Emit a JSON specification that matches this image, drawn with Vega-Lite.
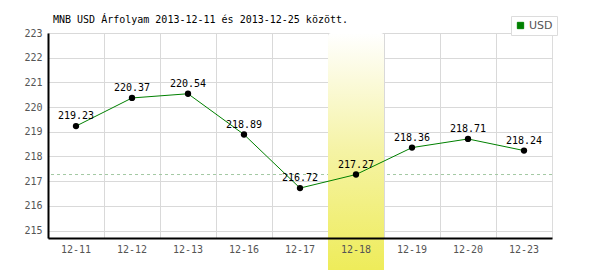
{
  "$schema": "https://vega.github.io/schema/vega-lite/v6.json",
  "width": 504,
  "height": 205,
  "autosize": {"type": "none"},
  "padding": {"left": 48, "top": 33, "right": 48, "bottom": 32},
  "background": "white",
  "config": {
    "view": {"stroke": "#dcdcdc", "strokeWidth": 1},
    "font": "DejaVu Sans Mono"
  },
  "title": {
    "text": "MNB USD Árfolyam 2013-12-11 és 2013-12-25 között.",
    "anchor": "start",
    "frame": "group",
    "dx": 5,
    "offset": -9,
    "font": "DejaVu Sans Mono",
    "fontSize": 10,
    "fontWeight": "normal",
    "color": "#000000"
  },
  "datasets": {
    "rates": [
      {"date": "12-11", "rate": 219.23, "currency": "USD"},
      {"date": "12-12", "rate": 220.37, "currency": "USD"},
      {"date": "12-13", "rate": 220.54, "currency": "USD"},
      {"date": "12-16", "rate": 218.89, "currency": "USD"},
      {"date": "12-17", "rate": 216.72, "currency": "USD"},
      {"date": "12-18", "rate": 217.27, "currency": "USD"},
      {"date": "12-19", "rate": 218.36, "currency": "USD"},
      {"date": "12-20", "rate": 218.71, "currency": "USD"},
      {"date": "12-23", "rate": 218.24, "currency": "USD"}
    ],
    "ref": [{"level": 217.27}],
    "hl": [{"date": "12-18", "top": 223, "bottom": 213.4}]
  },
  "resolve": {"axis": {"x": "independent", "y": "independent"}},
  "layer": [
    {
      "data": {"name": "ref"},
      "mark": {"type": "rule", "color": "#a3c9a3", "strokeDash": [3, 3], "strokeWidth": 1},
      "encoding": {
        "y": {
          "field": "level", "type": "quantitative",
          "scale": {"domain": [214.7, 223], "nice": false, "zero": false},
          "axis": {"orient": "right", "grid": true, "gridColor": "#d9d9d9", "gridWidth": 1, "labels": false, "domain": false, "ticks": false, "title": null, "values": [215, 216, 217, 218, 219, 220, 221, 222, 223], "zindex": 0}
        }
      }
    },
    {
      "data": {"name": "hl"},
      "mark": {
        "type": "rect",
        "cornerRadiusTopLeft": 3,
        "cornerRadiusTopRight": 3,
        "color": {
          "gradient": "linear", "x1": 0, "y1": 0, "x2": 0, "y2": 1,
          "stops": [
            {"offset": 0, "color": "#ffffff"},
            {"offset": 0.5, "color": "#f5f3a4"},
            {"offset": 1, "color": "#eeec5a"}
          ]
        }
      },
      "encoding": {
        "x": {
          "field": "date", "type": "nominal",
          "scale": {"domain": ["12-11", "12-12", "12-13", "12-16", "12-17", "12-18", "12-19", "12-20", "12-23"], "paddingInner": 0, "paddingOuter": 0},
          "axis": {"orient": "top", "grid": true, "gridColor": "#d9d9d9", "bandPosition": 0, "labels": false, "domain": false, "ticks": false, "title": null, "zindex": 0}
        },
        "y": {"field": "top", "type": "quantitative", "axis": null},
        "y2": {"field": "bottom"}
      }
    },
    {
      "data": {"name": "rates"},
      "mark": {"type": "line", "strokeWidth": 1},
      "encoding": {
        "x": {
          "field": "date", "type": "nominal", "sort": null,
          "axis": {"orient": "bottom", "grid": false, "ticks": false, "domain": true, "domainColor": "#000000", "domainWidth": 2, "labelPadding": 6, "labelFont": "DejaVu Sans Mono", "labelFontSize": 10, "labelColor": "#555555", "labelAngle": 0, "title": null, "zindex": 1}
        },
        "y": {
          "field": "rate", "type": "quantitative",
          "axis": {"orient": "left", "grid": false, "ticks": false, "domain": true, "domainColor": "#000000", "domainWidth": 2, "labelPadding": 6, "labelFont": "DejaVu Sans Mono", "labelFontSize": 10, "labelColor": "#555555", "title": null, "values": [215, 216, 217, 218, 219, 220, 221, 222, 223], "zindex": 1}
        },
        "color": {
          "field": "currency", "type": "nominal",
          "scale": {"range": ["#008000"]},
          "legend": {
            "orient": "none", "legendX": 463, "legendY": -17,
            "title": null, "padding": 4,
            "strokeColor": "#dcdcdc", "fillColor": "#ffffff",
            "symbolType": "square", "symbolSize": 40,
            "symbolFillColor": "#008000", "symbolStrokeColor": "#004d00", "symbolStrokeWidth": 1,
            "labelFont": "DejaVu Sans", "labelFontSize": 11, "labelColor": "#555555", "labelOffset": 3
          }
        }
      }
    },
    {
      "data": {"name": "rates"},
      "mark": {"type": "point", "filled": true, "color": "#000000", "size": 40, "opacity": 1},
      "encoding": {
        "x": {"field": "date", "type": "nominal", "sort": null, "axis": null},
        "y": {"field": "rate", "type": "quantitative", "axis": null}
      }
    },
    {
      "data": {"name": "rates"},
      "mark": {"type": "text", "dy": -10, "fontSize": 10, "font": "DejaVu Sans Mono", "color": "#000000"},
      "encoding": {
        "x": {"field": "date", "type": "nominal", "sort": null, "axis": null},
        "y": {"field": "rate", "type": "quantitative", "axis": null},
        "text": {"field": "rate", "type": "quantitative", "format": ".2f"}
      }
    }
  ]
}
